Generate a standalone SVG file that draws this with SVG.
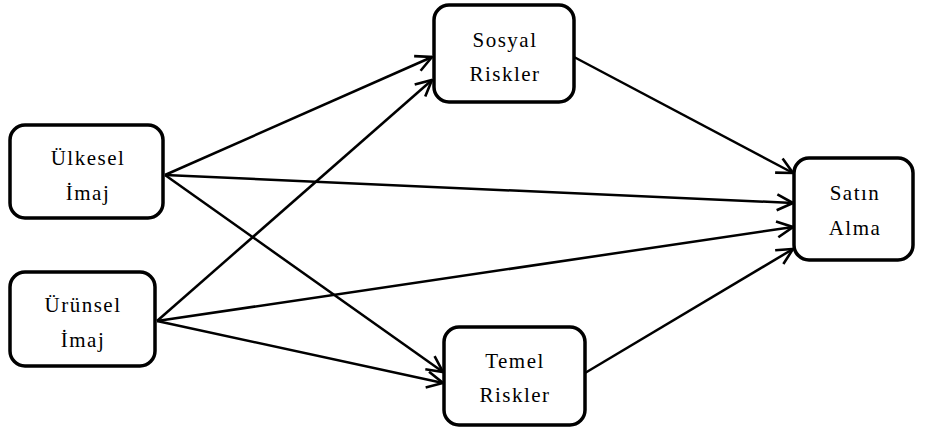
<svg xmlns="http://www.w3.org/2000/svg" width="926" height="430" viewBox="0 0 926 430">
<style>
.box{fill:#fff;stroke:#000;stroke-width:3.5}
.t{font-family:"Liberation Serif","Times New Roman",serif;font-size:21px;fill:#000;text-anchor:middle;letter-spacing:1.5px}
.c{stroke:#000;stroke-width:2.5;fill:none;marker-end:url(#ah)}
</style>
<defs>
<marker id="ah" viewBox="0 0 20 20" refX="19" refY="10" markerWidth="20" markerHeight="20" markerUnits="userSpaceOnUse" orient="auto">
<path d="M3,2 L19,10 L3,18" fill="none" stroke="#000" stroke-width="2.6"/>
</marker>
</defs>
<rect width="926" height="430" fill="#fff"/>
<g id="connectors">
<line class="c" x1="165" y1="175" x2="432" y2="57"/>
<line class="c" x1="165" y1="175" x2="793" y2="203"/>
<line class="c" x1="165" y1="175" x2="443" y2="372"/>
<line class="c" x1="157" y1="321" x2="432" y2="80"/>
<line class="c" x1="157" y1="321" x2="793" y2="227"/>
<line class="c" x1="157" y1="321" x2="443" y2="383"/>
<line class="c" x1="574" y1="57" x2="793" y2="173"/>
<line class="c" x1="585" y1="373" x2="793" y2="249"/>
</g>
<g id="ulkesel">
<rect class="box" x="10" y="125" width="153" height="93" rx="15"/>
<text class="t" x="88" y="165">Ülkesel</text>
<text class="t" x="88" y="200">İmaj</text>
</g>
<g id="urunsel">
<rect class="box" x="10" y="272" width="145" height="94" rx="15"/>
<text class="t" x="83" y="312">Ürünsel</text>
<text class="t" x="83" y="347">İmaj</text>
</g>
<g id="sosyal">
<rect class="box" x="434" y="5" width="140" height="97" rx="15"/>
<text class="t" x="505" y="47">Sosyal</text>
<text class="t" x="505" y="81">Riskler</text>
</g>
<g id="temel">
<rect class="box" x="444" y="327" width="141" height="98" rx="15"/>
<text class="t" x="515" y="368">Temel</text>
<text class="t" x="515" y="402">Riskler</text>
</g>
<g id="satin">
<rect class="box" x="794" y="158" width="119" height="102" rx="15"/>
<text class="t" x="855" y="200">Satın</text>
<text class="t" x="855" y="235">Alma</text>
</g>
</svg>
